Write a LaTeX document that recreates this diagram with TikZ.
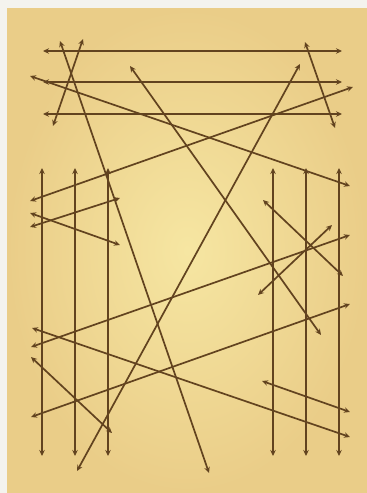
\documentclass[tikz,border=0pt]{standalone}
\usepackage{xcolor}
\usepackage{tikz}
\usetikzlibrary{arrows.meta}
\definecolor{ink}{HTML}{62431F}
\definecolor{paperlt}{HTML}{F6E6A2}
\definecolor{paperdk}{HTML}{EACD88}
\definecolor{margin}{HTML}{F4F3EE}

\begin{document}
\begin{tikzpicture}[
  x=1pt, y=-1pt,
  arr/.style={{Stealth[length=6pt,width=5.5pt]}-{Stealth[length=6pt,width=5.5pt]},
              line width=1.7pt, color=ink},
]
  \useasboundingbox (0,0) rectangle (367,493);
  \fill[margin] (0,0) rectangle (367,493);
  \shade[inner color=paperlt, outer color=paperdk] (7,8) rectangle (367,493);
  % three across the top
  \foreach \y [count=\i] in {51,82,114} {
    \coordinate (h\i w) at (43,\y); \coordinate (h\i e) at (342,\y);
    \draw[arr] (h\i w) -- (h\i e);
  }
  % six uprights
  \foreach \x [count=\i] in {42,75,108,273,306,339} {
    \coordinate (v\i n) at (\x,168); \coordinate (v\i s) at (\x,456);
    \draw[arr] (v\i n) -- (v\i s);
  }
  % slanted ones
  \coordinate (a1) at (60,41);   \coordinate (a2) at (209,473);
  \coordinate (b1) at (83,39);   \coordinate (b2) at (53,126);
  \coordinate (c1) at (30,76);   \coordinate (c2) at (350,186);
  \coordinate (d1) at (130,66);  \coordinate (d2) at (321,335);
  \coordinate (e1) at (300,64);  \coordinate (e2) at (77,471);
  \coordinate (f1) at (353,87);  \coordinate (f2) at (30,201);
  \coordinate (g1) at (305,42);  \coordinate (g2) at (335,128);
  \coordinate (k1) at (30,213);  \coordinate (k2) at (120,245);
  \coordinate (l1) at (30,227);  \coordinate (l2) at (120,198);
  \coordinate (m1) at (263,200); \coordinate (m2) at (343,276);
  \coordinate (n1) at (258,295); \coordinate (n2) at (332,225);
  \coordinate (o1) at (350,235); \coordinate (o2) at (31,347);
  \coordinate (p1) at (350,304); \coordinate (p2) at (31,417);
  \coordinate (q1) at (32,328);  \coordinate (q2) at (350,437);
  \coordinate (r1) at (31,357);  \coordinate (r2) at (112,433);
  \coordinate (s1) at (262,381); \coordinate (s2) at (350,412);
  \foreach \n in {a,b,c,d,e,f,g,k,l,m,n,o,p,q,r,s}
    \draw[arr] (\n1) -- (\n2);
\end{tikzpicture}
\end{document}
